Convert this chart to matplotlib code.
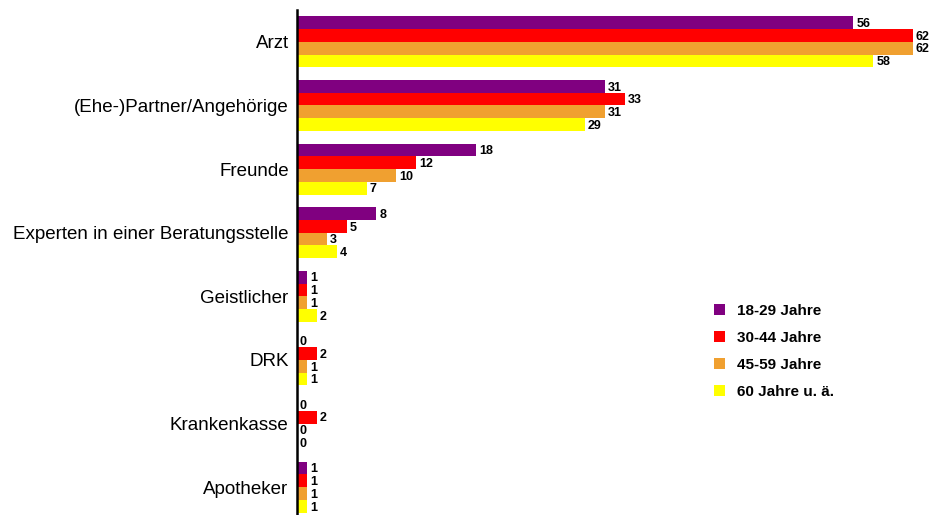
import matplotlib
matplotlib.use("Agg")
import matplotlib.pyplot as plt
import numpy as np
from matplotlib.patches import Patch

categories = ["Arzt", "(Ehe-)Partner/Angehörige", "Freunde", "Experten in einer Beratungsstelle",
              "Geistlicher", "DRK", "Krankenkasse", "Apotheker"]
series_names = ["18-29 Jahre", "30-44 Jahre", "45-59 Jahre", "60 Jahre u. ä."]
v_18_29 = [56, 31, 18, 8, 1, 0, 0, 1]
v_30_44 = [62, 33, 12, 5, 1, 2, 2, 1]
v_45_59 = [62, 31, 10, 3, 1, 1, 0, 1]
v_60 = [58, 29, 7, 4, 2, 1, 0, 1]
colors = ["#800080", "#FF0000", "#F0A030", "#FFFF00"]

plt.rcParams['font.family'] = ['Liberation Sans', 'DejaVu Sans']
W, H = 936, 515
fig = plt.figure(figsize=(W/100, H/100), dpi=100)
ax_left = 297 / W
ax_top = 1 - 10 / H
ax_bottom = -4 / H
ax = fig.add_axes([ax_left, ax_bottom, 1 - ax_left, ax_top - ax_bottom])

n = len(categories)
y = np.arange(n)
bh = 0.2
all_vals = [v_18_29, v_30_44, v_45_59, v_60]
for i, (vals, c, name) in enumerate(zip(all_vals, colors, series_names)):
    pos = y - 0.3 + i * bh
    ax.barh(pos, vals, height=bh, color=c, label=name, linewidth=0)
    for p, v in zip(pos, vals):
        ax.text(v + 0.3, p + 0.02, str(v), va='center', ha='left', fontsize=9,
                fontweight='bold', clip_on=False)

ax.set_ylim(n - 0.5, -0.5)
ax.set_xlim(0, (W - 297) / 9.935)
ax.set_yticks(y)
ax.set_yticklabels(categories, fontsize=13.5)
ax.tick_params(axis='y', length=0, pad=6)
ax.set_xticks([])
for s in ['top', 'right', 'bottom']:
    ax.spines[s].set_visible(False)
ax.spines['left'].set_linewidth(1.8)

handles = [Patch(facecolor=c, edgecolor='none') for c in colors]
leg = fig.legend(handles, series_names, loc='upper left', bbox_to_anchor=(700 / W, 1 - 290 / H),
                 frameon=False, prop={'weight': 'bold', 'size': 11}, handlelength=0.75,
                 handleheight=0.75, labelspacing=0.85, handletextpad=0.8)

fig.savefig("out.png", dpi=100)
